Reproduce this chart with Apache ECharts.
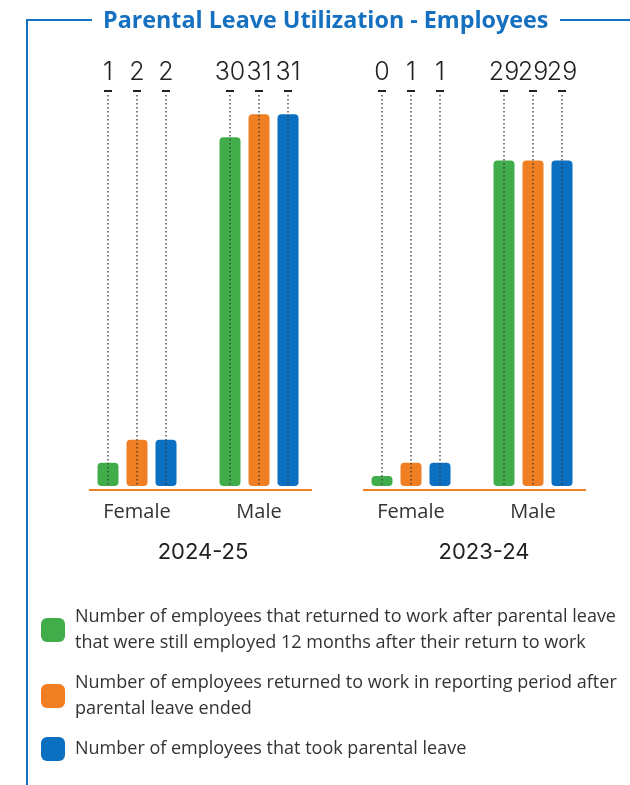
<!DOCTYPE html>
<html>
<head>
<meta charset="utf-8">
<title>Parental Leave Utilization - Employees</title>
<script src="https://cdn.jsdelivr.net/npm/echarts@6/dist/echarts.min.js"></script>
<style>
  html, body { margin: 0; padding: 0; background: #ffffff; }
  #chart { width: 630px; height: 785px; }
</style>
</head>
<body>
<div id="chart"></div>
<script>
// ---- data ----
const CATEGORIES = ['Female', 'Male'];
const PERIODS = ['2024-25', '2023-24'];
const SERIES_NAMES = [
  'Number of employees that returned to work after parental leave that were still employed 12 months after their return to work',
  'Number of employees returned to work in reporting period after parental leave ended',
  'Number of employees that took parental leave'
];
const LEGEND_TEXT = [
  'Number of employees that returned to work after parental leave\nthat were still employed 12 months after their return to work',
  'Number of employees returned to work in reporting period after\nparental leave ended',
  'Number of employees that took parental leave'
];
// 2024-25 (Female, Male)
const retained2425 = [1, 30];
const returned2425 = [2, 31];
const tookLeave2425 = [2, 31];
// 2023-24 (Female, Male)
const retained2324 = [0, 29];
const returned2324 = [1, 29];
const tookLeave2324 = [1, 29];

// ---- styling ----
const COLORS = ['#40ad4a', '#ef7f22', '#0b6fc2'];
const BLUE = '#1570c0';
const FONT = 'Inter, Roboto, "Noto Sans", sans-serif';
const WIDE_FONT = '"Open Sans", "Noto Sans", sans-serif';
const Y_MAX = 32;
const BAR_W = 21;
const BAR_GAP_PX = 8;
const GRID_TOP = 91;
const GRID_H = 395;
const GRID_W = 244;
const GRID_LEFTS = [76, 350];

const periodData = [
  [retained2425, returned2425, tookLeave2425],
  [retained2324, returned2324, tookLeave2324]
];

// dotted leader from the value label down through each bar
function leaderRenderer(offset) {
  return function (params, api) {
    const cat = api.value(0);
    const v = api.value(1);
    const base = api.coord([cat, 0]);
    const top = api.coord([cat, Y_MAX]);
    const x = base[0] + offset;
    return {
      type: 'group',
      children: [
        { type: 'line', shape: { x1: x, y1: top[1] + 4, x2: x, y2: base[1] - 1 },
          style: { stroke: '#3a3a3a', lineWidth: 1.3, lineDash: [1.5, 2.5] } },
        { type: 'line', shape: { x1: x - 4, y1: top[1], x2: x + 4, y2: top[1] },
          style: { stroke: '#222', lineWidth: 2 } },
        { type: 'text', x: x, y: top[1] - 19,
          style: { text: String(v), fontSize: 25, fontFamily: FONT, fontWeight: 300,
                   fill: '#222', align: 'center', verticalAlign: 'middle' } }
      ]
    };
  };
}

const grids = [], xAxes = [], yAxes = [], series = [], graphics = [];

PERIODS.forEach(function (period, p) {
  grids.push({ left: GRID_LEFTS[p], top: GRID_TOP, width: GRID_W, height: GRID_H });
  xAxes.push({
    type: 'category', gridIndex: p, data: CATEGORIES,
    axisLine: { show: false }, axisTick: { show: false },
    axisLabel: { fontSize: 20, color: '#333', fontFamily: WIDE_FONT, margin: 16 },
    name: period, nameLocation: 'middle', nameGap: 55,
    nameTextStyle: { fontSize: 22, color: '#222', fontFamily: FONT,
                     padding: [0, 0, 0, p === 0 ? 10 : 24] }
  });
  yAxes.push({
    type: 'value', gridIndex: p, min: 0, max: Y_MAX, show: false,
    splitLine: { show: false },
    breaks: [{ start: 3, end: 28, gap: '59%' }],
    breakArea: { show: false }
  });
  periodData[p].forEach(function (values, i) {
    series.push({
      type: 'bar', name: SERIES_NAMES[i], xAxisIndex: p, yAxisIndex: p,
      data: values, barWidth: BAR_W, barGap: (BAR_GAP_PX / BAR_W * 100) + '%',
      barMinHeight: 10,
      itemStyle: { color: COLORS[i], borderRadius: 4 },
      z: 2
    });
  });
  periodData[p].forEach(function (values, i) {
    series.push({
      type: 'custom', name: 'leader-' + p + '-' + i, xAxisIndex: p, yAxisIndex: p,
      data: values.map(function (v, c) { return [c, v]; }),
      renderItem: leaderRenderer((i - 1) * (BAR_W + BAR_GAP_PX)),
      silent: true, z: 5
    });
  });
  // orange baseline under each period's bars
  const left = GRID_LEFTS[p];
  graphics.push({
    type: 'line', z: 3,
    shape: { x1: left + 13, y1: GRID_TOP + GRID_H + 4, x2: left + GRID_W - 8, y2: GRID_TOP + GRID_H + 4 },
    style: { stroke: COLORS[1], lineWidth: 2 }
  });
});

// frame around the panel
graphics.push(
  { type: 'line', shape: { x1: 27, y1: 20, x2: 92, y2: 20 }, style: { stroke: BLUE, lineWidth: 2 } },
  { type: 'line', shape: { x1: 560, y1: 20, x2: 630, y2: 20 }, style: { stroke: BLUE, lineWidth: 2 } },
  { type: 'line', shape: { x1: 27, y1: 19, x2: 27, y2: 785 }, style: { stroke: BLUE, lineWidth: 2 } }
);

const chart = echarts.init(document.getElementById('chart'), null, { renderer: 'canvas' });
chart.setOption({
  backgroundColor: '#ffffff',
  animation: false,
  title: {
    text: 'Parental Leave Utilization - Employees',
    left: 103, top: 10, padding: 0,
    textStyle: { fontSize: 23.3, fontWeight: 700, color: BLUE, fontFamily: WIDE_FONT }
  },
  legend: {
    orient: 'vertical', left: 41, top: 604, padding: 0,
    itemWidth: 24, itemHeight: 24, itemGap: 14,
    icon: 'roundRect',
    data: SERIES_NAMES,
    formatter: function (name) { return LEGEND_TEXT[SERIES_NAMES.indexOf(name)]; },
    textStyle: { fontSize: 18, lineHeight: 26, color: '#333', fontFamily: WIDE_FONT, padding: [0, 0, 0, 5] }
  },
  grid: grids,
  xAxis: xAxes,
  yAxis: yAxes,
  series: series,
  graphic: graphics
});
</script>
</body>
</html>
